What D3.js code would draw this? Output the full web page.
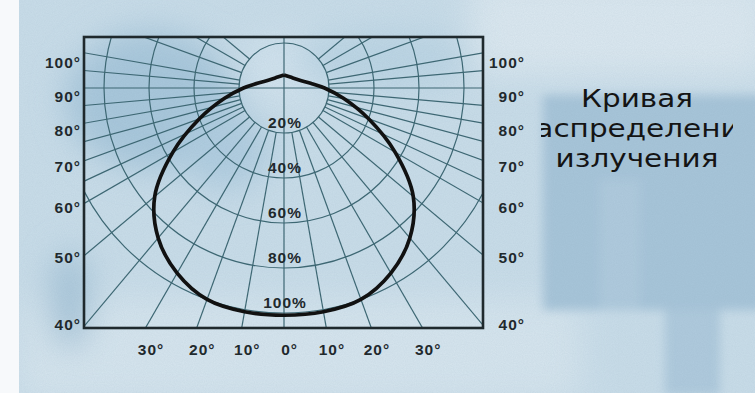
<!DOCTYPE html>
<html>
<head>
<meta charset="utf-8">
<script src="https://cdn.jsdelivr.net/npm/d3@7"></script>
<style>
  html, body { margin: 0; padding: 0; background: #ffffff; }
  svg { display: block; }
</style>
</head>
<body>
<div id="chart"></div>
<script>
// polar light distribution data (angle from nadir in degrees, relative intensity in %)
const curveAngles = [0, 10, 20, 30, 40, 50, 60, 70, 80, 90, 100, 120, 150, 180];
const curveValues = [101, 101, 100, 95, 87, 75, 57, 40, 27, 18, 12, 7.3, 5.6, 5.8];

const ringLevels = [20, 40, 60, 80, 100];
const ringLabels = ['20%', '40%', '60%', '80%', '100%'];

const spokeAngles = [10, 20, 30, 40, 50, 60, 65, 70, 75, 80, 85, 95, 100, 110, 120, 130];
const sideTickAngles = [100, 90, 80, 70, 60, 50, 40];
const sideTickLabels = ['100°', '90°', '80°', '70°', '60°', '50°', '40°'];
const bottomTickAngles = [-30, -20, -10, 0, 10, 20, 30];
const bottomTickLabels = ['30', '20', '10', '0', '10', '20', '30'];

const titleLines = ['Кривая', 'распределения', 'излучения'];

const width = 755, height = 393;
const cx = 284, cy = 88;
const frame = { x0: 84, x1: 483, y0: 37, y1: 328 };
const half = (frame.x1 - frame.x0) / 2;
const gridColor = '#3d6773';
const inkColor = '#1f292d';

const r = d3.scaleLinear().domain([0, 100]).range([0, 225]);
const rad = d => d * Math.PI / 180;

const svg = d3.select('#chart').append('svg')
  .attr('width', width)
  .attr('height', height);

const defs = svg.append('defs');
defs.append('filter').attr('id', 'soft')
  .attr('x', '-50%').attr('y', '-50%').attr('width', '200%').attr('height', '200%')
  .append('feGaussianBlur').attr('stdDeviation', 16);
defs.append('filter').attr('id', 'softer')
  .attr('x', '-20%').attr('y', '-20%').attr('width', '140%').attr('height', '140%')
  .append('feGaussianBlur').attr('stdDeviation', 5);
const grain = defs.append('filter').attr('id', 'grain');
grain.append('feTurbulence').attr('type', 'fractalNoise').attr('baseFrequency', 0.9).attr('numOctaves', 2).attr('seed', 3);
grain.append('feColorMatrix').attr('type', 'matrix')
  .attr('values', '0 0 0 0 0.2  0 0 0 0 0.3  0 0 0 0 0.4  0 0 0 0.35 0');
defs.append('clipPath').attr('id', 'frameClip')
  .append('rect')
  .attr('x', frame.x0).attr('y', frame.y0)
  .attr('width', frame.x1 - frame.x0).attr('height', frame.y1 - frame.y0);
defs.append('clipPath').attr('id', 'titleClip')
  .append('rect').attr('x', 541).attr('y', 70).attr('width', 192).attr('height', 120);

// paper background
svg.append('rect').attr('width', width).attr('height', height).attr('fill', '#c9dde9');
const bg = svg.append('g').attr('filter', 'url(#soft)');
bg.append('rect').attr('x', 470).attr('y', -20).attr('width', 300).attr('height', 95).attr('fill', '#dbe8f0');
bg.append('ellipse').attr('cx', 150).attr('cy', 100).attr('rx', 85).attr('ry', 70).attr('fill', '#a8c7db');
bg.append('ellipse').attr('cx', 225).attr('cy', 150).attr('rx', 45).attr('ry', 40).attr('fill', '#b0cde0');
bg.append('ellipse').attr('cx', 290).attr('cy', 70).attr('rx', 45).attr('ry', 35).attr('fill', '#d2e3ee');
bg.append('ellipse').attr('cx', 385).attr('cy', 60).attr('rx', 90).attr('ry', 30).attr('fill', '#bcd5e4');
bg.append('rect').attr('x', 20).attr('y', 300).attr('width', 560).attr('height', 100).attr('fill', '#d6e5ee');
bg.append('ellipse').attr('cx', 70).attr('cy', 300).attr('rx', 20).attr('ry', 50).attr('fill', '#a6c4d8');
const panel = svg.append('g').attr('filter', 'url(#softer)');
panel.append('rect').attr('x', 543).attr('y', 95).attr('width', 220).attr('height', 215).attr('fill', '#a7c5d9');
panel.append('rect').attr('x', 600).attr('y', 180).attr('width', 40).attr('height', 130).attr('fill', '#afcadd');
panel.append('rect').attr('x', 665).attr('y', 310).attr('width', 55).attr('height', 85).attr('fill', '#afcadd');
svg.append('rect').attr('width', width).attr('height', height).attr('filter', 'url(#grain)').attr('opacity', 0.35);
svg.append('rect').attr('x', 0).attr('y', 0).attr('width', 19).attr('height', height).attr('fill', '#f7f9fb');

// grid
const grid = svg.append('g').attr('clip-path', 'url(#frameClip)');

grid.selectAll('circle.ring')
  .data(ringLevels)
  .enter().append('circle')
    .attr('class', 'ring')
    .attr('cx', cx).attr('cy', cy)
    .attr('r', d => r(d))
    .attr('fill', 'none')
    .attr('stroke', gridColor)
    .attr('stroke-width', 1.2);

const spokes = [];
spokeAngles.forEach(a => {
  spokes.push({ a: a, from: r(20) });
  spokes.push({ a: -a, from: r(20) });
});
spokes.push({ a: 0, from: 0 }, { a: 90, from: 0 }, { a: -90, from: 0 }, { a: 180, from: 0 });

grid.selectAll('line.spoke')
  .data(spokes)
  .enter().append('line')
    .attr('class', 'spoke')
    .attr('x1', d => cx + d.from * Math.sin(rad(d.a)))
    .attr('y1', d => cy + d.from * Math.cos(rad(d.a)))
    .attr('x2', d => cx + 700 * Math.sin(rad(d.a)))
    .attr('y2', d => cy + 700 * Math.cos(rad(d.a)))
    .attr('stroke', gridColor)
    .attr('stroke-width', 1.2);

// ring labels
const labelFont = '"Liberation Sans", Arial, Helvetica, sans-serif';
svg.selectAll('text.ring-label')
  .data(ringLevels)
  .enter().append('text')
    .attr('class', 'ring-label')
    .attr('x', cx + 1)
    .attr('y', d => cy + r(d) - 5)
    .attr('text-anchor', 'middle')
    .attr('font-family', labelFont)
    .attr('font-weight', 'bold')
    .attr('font-size', 15.5)
    .attr('letter-spacing', 1)
    .attr('fill', inkColor)
    .text((d, i) => ringLabels[i]);

// light distribution curve
const curvePoints = [];
for (let i = curveAngles.length - 1; i > 0; i--) curvePoints.push({ a: -curveAngles[i], v: curveValues[i] });
for (let i = 0; i < curveAngles.length; i++) curvePoints.push({ a: curveAngles[i], v: curveValues[i] });

const radial = d3.lineRadial()
  .angle(d => Math.PI - rad(d.a))
  .radius(d => r(d.v))
  .curve(d3.curveCatmullRom.alpha(0.5));

svg.append('path')
  .datum(curvePoints)
  .attr('transform', `translate(${cx},${cy})`)
  .attr('d', radial)
  .attr('fill', 'none')
  .attr('stroke', '#111111')
  .attr('stroke-width', 3.7)
  .attr('stroke-linejoin', 'miter');

// frame
svg.append('rect')
  .attr('x', frame.x0).attr('y', frame.y0)
  .attr('width', frame.x1 - frame.x0).attr('height', frame.y1 - frame.y0)
  .attr('fill', 'none')
  .attr('stroke', inkColor)
  .attr('stroke-width', 2.6);

// side angle labels
const sideY = a => cy + 14 + (half - 8) * Math.cos(rad(a)) / Math.sin(rad(a));
[frame.x0 - 3, frame.x1 + 42].forEach(x => {
  svg.append('g').selectAll('text')
    .data(sideTickAngles)
    .enter().append('text')
      .attr('x', x)
      .attr('y', d => sideY(d))
      .attr('text-anchor', 'end')
      .attr('font-family', labelFont)
      .attr('font-weight', 'bold')
      .attr('font-size', 15.5)
      .attr('letter-spacing', 1)
      .attr('fill', inkColor)
      .text((d, i) => sideTickLabels[i]);
});

// bottom angle labels, number centred on the spoke
const bottomX = a => cx + (frame.y1 - cy) * Math.tan(rad(a));
const bottom = svg.append('g').selectAll('g')
  .data(bottomTickAngles)
  .enter().append('g');
bottom.append('text')
  .attr('class', 'num')
  .attr('x', d => bottomX(d) + 2)
  .attr('y', 355)
  .attr('text-anchor', 'middle')
  .attr('font-family', labelFont)
  .attr('font-weight', 'bold')
  .attr('font-size', 15.5)
  .attr('letter-spacing', 1)
  .attr('fill', inkColor)
  .text((d, i) => bottomTickLabels[i]);
bottom.each(function(d) {
  const g = d3.select(this);
  const w = g.select('text.num').node().getComputedTextLength();
  g.append('text')
    .attr('x', bottomX(d) + 2 + w / 2)
    .attr('y', 355)
    .attr('font-family', labelFont)
    .attr('font-weight', 'bold')
    .attr('font-size', 15.5)
    .attr('fill', inkColor)
    .text('°');
});

// title, horizontally stretched and cut at the panel edges
const title = svg.append('g').attr('clip-path', 'url(#titleClip)')
  .append('g');
title.selectAll('text')
  .data(titleLines)
  .enter().append('text')
    .attr('x', 0)
    .attr('y', (d, i) => 107 + i * 30)
    .attr('text-anchor', 'middle')
    .attr('font-family', '"DejaVu Sans", sans-serif')
    .attr('font-size', 24)
    .attr('fill', '#141414')
    .text(d => d);
const firstWidth = title.select('text').node().getComputedTextLength();
const sx = 112 / firstWidth;
title.attr('transform', `translate(637,0) scale(${sx},1)`);
</script>
</body>
</html>
